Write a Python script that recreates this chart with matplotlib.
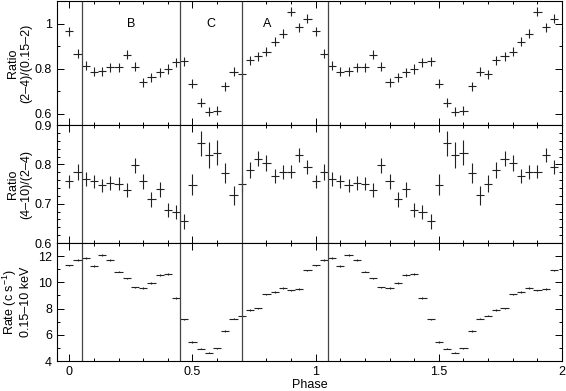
import matplotlib.pyplot as plt
import numpy as np
from matplotlib.ticker import MultipleLocator

plt.rcParams['font.family'] = ['Liberation Sans', 'DejaVu Sans']
plt.rcParams['font.size'] = 9
plt.rcParams['mathtext.fontset'] = 'custom'
plt.rcParams['mathtext.rm'] = 'Liberation Sans'
plt.rcParams['mathtext.default'] = 'regular'

# one cycle of 30 phase bins, plotted twice
nbin = 30
hard = [0.966, 0.866, 0.813, 0.787, 0.790, 0.806, 0.807, 0.863, 0.809, 0.740,
        0.762, 0.785, 0.799, 0.828, 0.834, 0.734, 0.649, 0.610, 0.613, 0.722,
        0.787, 0.776, 0.837, 0.856, 0.876, 0.921, 0.956, 1.054, 0.984, 1.021]
hard_err = [0.02] * nbin

hard2 = [0.757, 0.780, 0.763, 0.757, 0.747, 0.753, 0.751, 0.735, 0.798, 0.757,
         0.712, 0.737, 0.685, 0.678, 0.656, 0.748, 0.854, 0.824, 0.830, 0.779,
         0.721, 0.751, 0.786, 0.815, 0.803, 0.771, 0.780, 0.782, 0.824, 0.793]
hard2_err = [0.016, 0.020, 0.018, 0.017, 0.017, 0.017, 0.017, 0.018, 0.019, 0.019,
             0.019, 0.019, 0.018, 0.018, 0.019, 0.027, 0.032, 0.032, 0.032, 0.025,
             0.023, 0.021, 0.020, 0.020, 0.020, 0.018, 0.018, 0.017, 0.019, 0.018]

rate = [11.29, 11.72, 11.87, 11.24, 12.08, 11.70, 10.83, 10.30, 9.61, 9.56,
        9.97, 10.58, 10.63, 8.80, 7.18, 5.45, 4.94, 4.64, 4.97, 6.31,
        7.23, 7.46, 7.89, 8.02, 9.08, 9.28, 9.59, 9.39, 9.49, 10.91]
rate_err = [0.06] * nbin

edges = [0.05, 0.45, 0.7, 1.05]
regions = ['B', 'C', 'A']
region_x = [0.25, 0.575, 0.805]

phase = np.arange(2 * nbin) / nbin
xerr = 0.5 / nbin

fig, axs = plt.subplots(3, 1, sharex=True, figsize=(5.66, 3.91),
                        gridspec_kw={'height_ratios': [124, 118, 118]})
fig.subplots_adjust(left=0.1007, right=0.993, top=0.997, bottom=0.0767, hspace=0)

series = [(hard, hard_err), (hard2, hard2_err), (rate, rate_err)]
for ax, (y, e) in zip(axs, series):
    ax.errorbar(phase, y * 2, yerr=e * 2, xerr=xerr, fmt='none',
                ecolor='#222222', elinewidth=0.8, capsize=0)
    for x in edges:
        ax.axvline(x, color='#444444', lw=0.9)
    ax.tick_params(which='both', direction='in', top=True, right=True, width=0.7)
    ax.tick_params(which='major', length=5)
    ax.tick_params(which='minor', length=2.5)
    for s in ax.spines.values():
        s.set_linewidth(0.8)

axs[0].set_ylim(0.55, 1.1)
axs[0].yaxis.set_major_locator(MultipleLocator(0.2))
axs[0].yaxis.set_minor_locator(MultipleLocator(0.1))
axs[0].set_yticks([0.6, 0.8, 1.0])
axs[0].set_yticklabels(['0.6', '0.8', '1'])
axs[0].set_ylabel('Ratio\n(2\u20134)/(0.15\u20132)', labelpad=2, linespacing=1.15)
for lab, x in zip(regions, region_x):
    axs[0].text(x, 1.0, lab, ha='center', va='center', fontsize=9)

axs[1].set_ylim(0.6, 0.9)
axs[1].yaxis.set_major_locator(MultipleLocator(0.1))
axs[1].yaxis.set_minor_locator(MultipleLocator(0.02))
axs[1].set_ylabel('Ratio\n(4\u201310)/(2\u20134)', labelpad=2, linespacing=1.15)

axs[2].set_ylim(4, 13)
axs[2].yaxis.set_major_locator(MultipleLocator(2))
axs[2].yaxis.set_minor_locator(MultipleLocator(1))
axs[2].set_ylabel('Rate (c s$^{-1}$)\n0.15\u201310 keV', labelpad=2, linespacing=1.15)

axs[2].set_xlim(-0.05, 2.0)
axs[2].xaxis.set_major_locator(MultipleLocator(0.5))
axs[2].xaxis.set_minor_locator(MultipleLocator(0.1))
axs[2].set_xticks([0, 0.5, 1, 1.5, 2])
axs[2].set_xticklabels(['0', '0.5', '1', '1.5', '2'])
axs[2].set_xlabel('Phase', labelpad=1)

fig.align_ylabels(axs)
plt.savefig('out.png', dpi=100)
